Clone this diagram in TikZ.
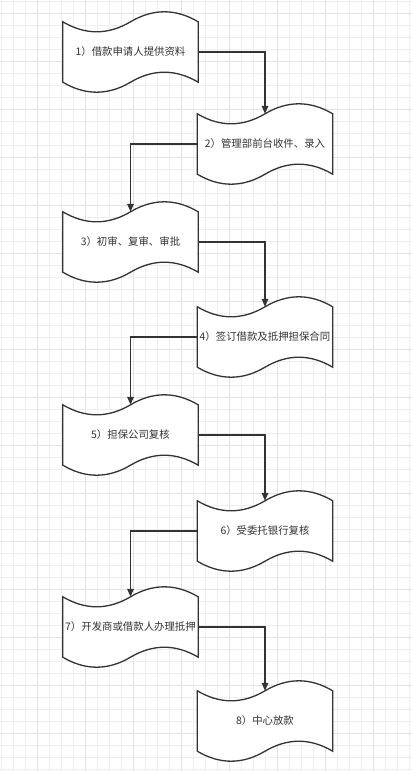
\documentclass[tikz,border=0pt]{standalone}
\usepackage{fontspec}
\newfontfamily\cjk{Noto Sans CJK SC}
\usetikzlibrary{arrows.meta}
\definecolor{gridminor}{HTML}{EEEEEE}
\definecolor{gridmajor}{HTML}{E2E2E2}
\definecolor{ink}{HTML}{333333}
\tikzset{
  tapenode/.style={minimum width=135pt, minimum height=60pt, inner sep=0pt,
    font=\cjk\fontsize{10.4pt}{12pt}\selectfont, text=ink},
  tapeline/.style={draw=ink, line width=1.3pt, fill=white},
  conn/.style={draw=ink, line width=1.4pt, -{Triangle[length=8pt,width=6.5pt]}},
}
\newcommand{\tapeshape}[1]{%
  \path[tapeline] (#1.north west)
    .. controls +(22.5pt,-13.33pt) and +(-22.5pt,-13.33pt) .. (#1.north)
    .. controls +(22.5pt,13.33pt) and +(-22.5pt,13.33pt) .. (#1.north east)
    -- (#1.south east)
    .. controls +(-22.5pt,13.33pt) and +(22.5pt,13.33pt) .. (#1.south)
    .. controls +(-22.5pt,-13.33pt) and +(22.5pt,-13.33pt) .. (#1.south west)
    -- cycle;}
\begin{document}
\begin{tikzpicture}[x=1pt,y=-1pt]
\useasboundingbox (0,0) rectangle (412,771);
\fill[white] (0,0) rectangle (412,771);
% grid
\foreach \k in {0,...,34} {
  \draw[gridminor, line width=1pt] ({1.3+12*\k},0) -- ({1.3+12*\k},771);
}
\foreach \k in {0,...,64} {
  \draw[gridminor, line width=1pt] (0,{1.3+12*\k}) -- (412,{1.3+12*\k});
}
\foreach \k in {0,...,8} {
  \draw[gridmajor, line width=1pt] ({37.3+48*\k},0) -- ({37.3+48*\k},771);
}
\foreach \k in {0,...,15} {
  \draw[gridmajor, line width=1pt] (0,{13.3+48*\k}) -- (412,{13.3+48*\k});
}
% nodes
\node[tapenode] (s1) at (130.5,52)  {};
\node[tapenode] (s2) at (265,144)   {};
\node[tapenode] (s3) at (130.5,242) {};
\node[tapenode] (s4) at (265,337)   {};
\node[tapenode] (s5) at (130.5,435) {};
\node[tapenode] (s6) at (265,531)   {};
\node[tapenode] (s7) at (130.5,627) {};
\node[tapenode] (s8) at (265,721)   {};
\foreach \n in {s1,s2,s3,s4,s5,s6,s7,s8} { \tapeshape{\n} }
\node[tapenode] (t1) at (s1) {1）借款申请人提供资料};
\node[tapenode] (t2) at (s2) {2）管理部前台收件、录入};
\node[tapenode] (t3) at (s3) {3）初审、复审、审批};
\node[tapenode] (t4) at (s4) {4）签订借款及抵押担保合同};
\node[tapenode] (t5) at (s5) {5）担保公司复核};
\node[tapenode] (t6) at (s6) {6）受委托银行复核};
\node[tapenode] (t7) at (s7) {7）开发商或借款人办理抵押};
\node[tapenode] (t8) at (s8) {8）中心放款};
% connectors
\draw[conn] (s1.east) -| (s2.north);
\draw[conn] (s2.west) -| (s3.north);
\draw[conn] (s3.east) -| (s4.north);
\draw[conn] (s4.west) -| (s5.north);
\draw[conn] (s5.east) -| (s6.north);
\draw[conn] (s6.west) -| (s7.north);
\draw[conn] (s7.east) -| (s8.north);
\end{tikzpicture}
\end{document}
